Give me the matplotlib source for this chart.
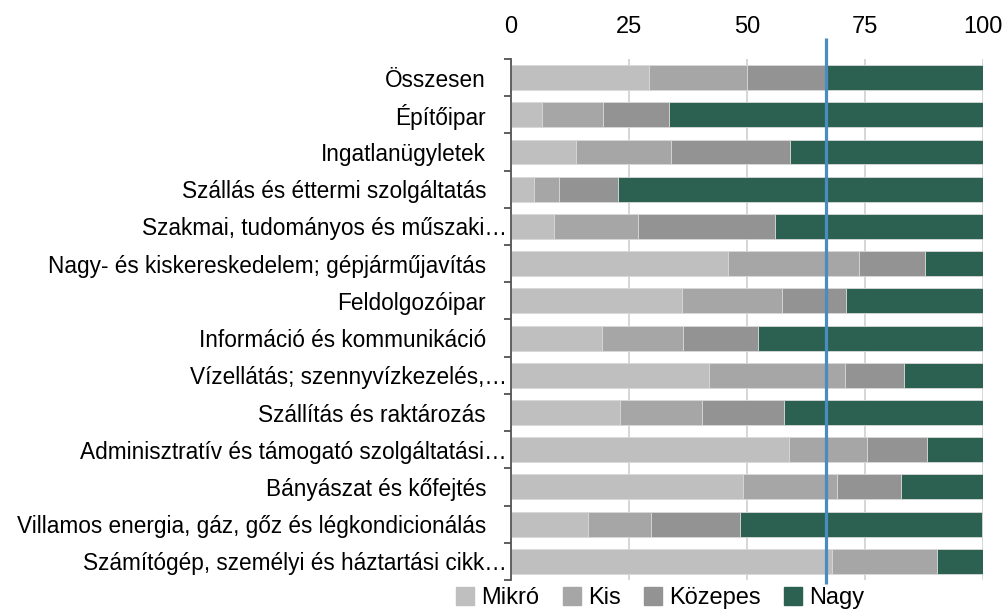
import numpy as np
import matplotlib.pyplot as plt
import matplotlib.transforms as mtransforms
from matplotlib.patches import Patch

plt.rcParams['font.family'] = ['Liberation Sans', 'DejaVu Sans']

# ---- data ----
categories = [
    "Összesen",
    "Építőipar",
    "Ingatlanügyletek",
    "Szállás és éttermi szolgáltatás",
    "Szakmai, tudományos és műszaki…",
    "Nagy- és kiskereskedelem; gépjárműjavítás",
    "Feldolgozóipar",
    "Információ és kommunikáció",
    "Vízellátás; szennyvízkezelés,…",
    "Szállítás és raktározás",
    "Adminisztratív és támogató szolgáltatási…",
    "Bányászat és kőfejtés",
    "Villamos energia, gáz, gőz és légkondicionálás",
    "Számítógép, személyi és háztartási cikk…",
]
mikro   = [29.2, 6.6, 13.8, 4.8, 9.2, 46.0, 36.2, 19.2, 41.9, 23.0, 58.8, 49.2, 16.2, 67.9]
kis     = [20.8, 12.9, 20.0, 5.3, 17.6, 27.7, 21.1, 17.2, 28.9, 17.4, 16.6, 19.9, 13.4, 22.3]
kozepes = [16.5, 14.0, 25.3, 12.6, 29.1, 14.0, 13.7, 15.9, 12.4, 17.4, 12.7, 13.5, 18.9, 0.0]
nagy    = [33.5, 66.5, 40.9, 77.3, 44.1, 12.3, 29.0, 47.7, 16.8, 42.2, 11.9, 17.8, 51.3, 9.8]
series_names = ["Mikró", "Kis", "Közepes", "Nagy"]
colors = ["#bfbfbf", "#a6a6a6", "#939393", "#2c6152"]
threshold = 66.7
x_ticks = [0, 25, 50, 75, 100]

fs = 16.3

fig = plt.figure(figsize=(10.05, 6.1), dpi=100)
ax = fig.add_axes([0.5085, 0.0492, 0.4697, 0.8541])

y = np.arange(len(categories))
left = np.zeros(len(categories))
for vals, name, col in zip([mikro, kis, kozepes, nagy], series_names, colors):
    ax.barh(y, vals, left=left, height=0.67, color=col, edgecolor="#d9d9d9",
            linewidth=0.6, label=name, zorder=2)
    left += np.array(vals)

# threshold line, reaching above the plot area
ax.plot([threshold, threshold], [-1.06, 13.6], color="#4a8cbf", lw=2.3,
        clip_on=False, zorder=4, solid_capstyle="butt")

ax.set_xlim(0, 100)
ax.set_ylim(13.5, -0.5)
ax.xaxis.tick_top()
ax.set_xticks(x_ticks)
ax.tick_params(axis="x", length=0, pad=15, labelsize=fs + 0.7)
ax.grid(axis="x", color="#d0d0d0", lw=1.2, zorder=0)

ax.set_yticks(y)
ax.set_yticklabels(categories)
ax.set_yticks(np.arange(-0.5, len(categories)), minor=True)
ax.tick_params(axis="y", which="major", length=0, pad=18, labelsize=fs)
ax.tick_params(axis="y", which="minor", length=5, width=1.1, color="#333333")

for s in ["top", "right", "bottom"]:
    ax.spines[s].set_visible(False)
ax.spines["left"].set_color("#555555")
ax.spines["left"].set_linewidth(1.3)
ax.spines["left"].set_zorder(5)

# ellipsis labels overflow to the right, like in the source
shift = mtransforms.ScaledTranslation(21 / 100, 0, fig.dpi_scale_trans)
for lab in ax.get_yticklabels():
    if lab.get_text().endswith("…"):
        lab.set_transform(lab.get_transform() + shift)

handles = [Patch(color=c) for c in colors]
ax.legend(handles, series_names, loc="center", bbox_to_anchor=(0.316, -0.035),
          ncol=4, frameon=False, fontsize=fs + 0.7, handlelength=0.75, handleheight=0.75,
          handletextpad=0.3, columnspacing=1.0, borderaxespad=0)

fig.savefig("out.png", dpi=100)
